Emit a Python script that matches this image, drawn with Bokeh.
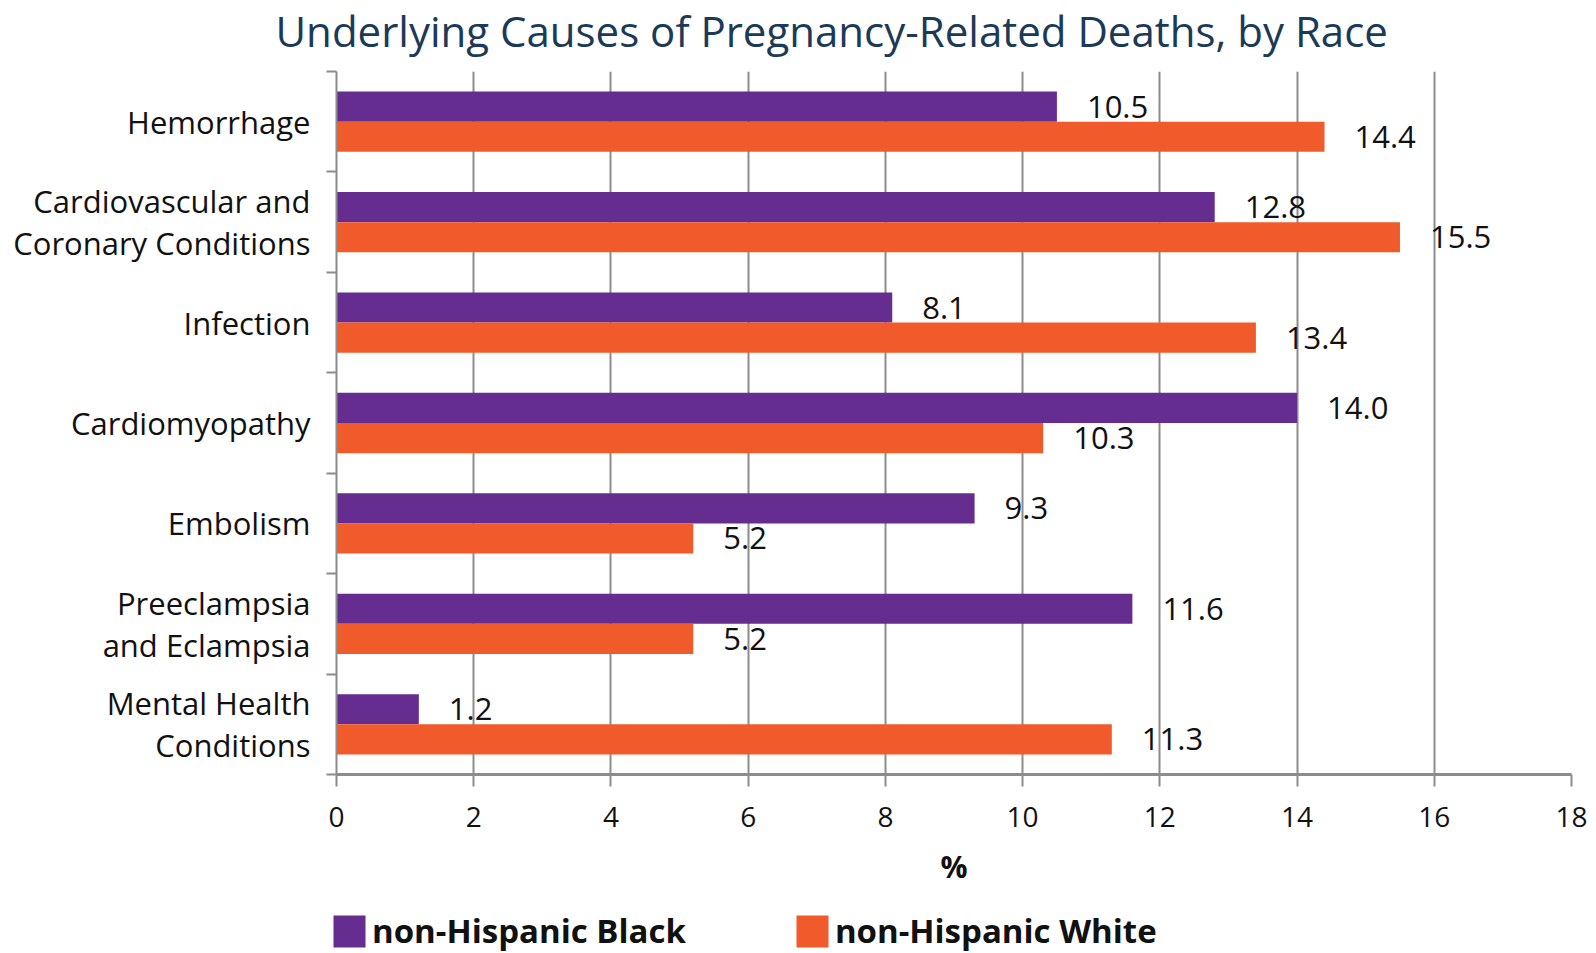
from bokeh.plotting import figure
from bokeh.layouts import column
from bokeh.models import (Range1d, FixedTicker, Legend, LegendItem,
                          ColumnDataSource)
from bokeh.transform import dodge
from bokeh.core.properties import value
from bokeh.embed import file_html
from bokeh.resources import INLINE

# Underlying causes, top to bottom
causes = [
    "Hemorrhage",
    "Cardiovascular and\nCoronary Conditions",
    "Infection",
    "Cardiomyopathy",
    "Embolism",
    "Preeclampsia\nand Eclampsia",
    "Mental Health\nConditions",
]
# Share of pregnancy-related deaths (%)
black = [10.5, 12.8, 8.1, 14.0, 9.3, 11.6, 1.2]
white = [14.4, 15.5, 13.4, 10.3, 5.2, 5.2, 11.3]
series_names = ["non-Hispanic Black", "non-Hispanic White"]
x_ticks = [0, 2, 4, 6, 8, 10, 12, 14, 16, 18]
title_text = "Underlying Causes of Pregnancy-Related Deaths, by Race"

PURPLE = "#652d90"
ORANGE = "#f15a2b"
GRID = "#8c8c8c"
INK = "#111111"
FONT = "Open Sans"
W = 1596
TOP_H, MAIN_H, LEG_H = 67, 836, 50
FRAME_TOP, FRAME_H = 4, 703

n = len(causes)
centers = [i + 0.5 for i in range(n)]
bar_h = 0.3
src = ColumnDataSource(dict(
    pos=centers,
    black=black,
    white=white,
    black_lbl=[f"{v:.1f}" for v in black],
    white_lbl=[f"{v:.1f}" for v in white],
))


def strip(height):
    """A thin figure with no axes or grid, used for the title and the legend."""
    f = figure(width=W, height=height, x_range=Range1d(x_ticks[0], x_ticks[-1]),
               y_range=Range1d(0, 1), output_backend="svg", toolbar_location=None,
               min_border=0, x_axis_type=None, y_axis_type=None)
    f.outline_line_color = None
    f.grid.visible = False
    f.frame_align = False
    return f


# ---- title strip
head = strip(TOP_H)
head.title.text = title_text
head.title.align = "left"
head.title.offset = 275
head.title.standoff = 0
head.title.vertical_align = "middle"
head.title.text_font = FONT
head.title.text_font_style = "normal"
head.title.text_font_size = "42px"
head.title.text_color = "#1b3a57"

# ---- main chart
p = figure(
    width=W, height=MAIN_H,
    x_range=Range1d(x_ticks[0], x_ticks[-1]),
    y_range=Range1d(n, 0),
    output_backend="svg", toolbar_location=None,
    min_border_left=336, min_border_right=25,
    min_border_top=FRAME_TOP, min_border_bottom=MAIN_H - FRAME_TOP - FRAME_H,
)
p.outline_line_color = None

# vertical grid every 2 %
p.ygrid.visible = False
p.xgrid.ticker = FixedTicker(ticks=x_ticks)
p.xgrid.grid_line_color = GRID
p.xgrid.grid_line_width = 2

# x axis
xa = p.xaxis[0]
xa.ticker = FixedTicker(ticks=x_ticks)
xa.axis_line_color = GRID
xa.axis_line_width = 3
xa.major_tick_line_color = GRID
xa.major_tick_line_width = 2
xa.major_tick_in = 0
xa.major_tick_out = 12
xa.minor_tick_line_color = None
xa.major_label_text_font = FONT
xa.major_label_text_font_size = "28px"
xa.major_label_text_color = INK
xa.major_label_standoff = 20
xa.axis_label = "%"
xa.axis_label_text_font = FONT
xa.axis_label_text_font_style = "bold"
xa.axis_label_text_font_size = "30px"
xa.axis_label_text_color = INK
xa.axis_label_standoff = 16

# y axis: labels at category centres, ticks at category boundaries
ya = p.yaxis[0]
ya.ticker = FixedTicker(ticks=centers, minor_ticks=list(range(n + 1)))
ya.major_label_overrides = {c: name for c, name in zip(centers, causes)}
ya.axis_line_color = GRID
ya.axis_line_width = 2
ya.major_tick_line_color = None
ya.major_tick_in = 0
ya.major_tick_out = 0
ya.minor_tick_line_color = GRID
ya.minor_tick_line_width = 2
ya.minor_tick_in = 0
ya.minor_tick_out = 10
ya.major_label_standoff = 16
ya.major_label_text_font = FONT
ya.major_label_text_font_size = "31px"
ya.major_label_text_color = INK
ya.major_label_text_line_height = 1.0

# bars
p.hbar(y=dodge("pos", -bar_h / 2, range=p.y_range), left=0, right="black",
       height=bar_h, source=src, fill_color=PURPLE, line_color=None)
p.hbar(y=dodge("pos", bar_h / 2, range=p.y_range), left=0, right="white",
       height=bar_h, source=src, fill_color=ORANGE, line_color=None)

# value labels
for col, off in (("black", -bar_h / 2), ("white", bar_h / 2)):
    p.text(x=col, y=dodge("pos", off, range=p.y_range), text=col + "_lbl", source=src,
           x_offset=30, text_align="left", text_baseline="middle",
           text_font=value(FONT), text_font_size="31px", text_color=INK)

# ---- legend strip (hidden copies of the two series supply the swatches)
foot = strip(LEG_H)
sw_black = foot.hbar(y="pos", left=0, right="black", height=bar_h, source=src,
                     fill_color=PURPLE, line_color=None, visible=False)
sw_white = foot.hbar(y="pos", left=0, right="white", height=bar_h, source=src,
                     fill_color=ORANGE, line_color=None, visible=False)
leg = Legend(items=[LegendItem(label=series_names[0], renderers=[sw_black]),
                    LegendItem(label=series_names[1], renderers=[sw_white])],
             location=(329, 0), orientation="horizontal",
             border_line_color=None, background_fill_alpha=0,
             inactive_fill_alpha=0,
             padding=0, margin=0, spacing=106,
             glyph_width=40, glyph_height=40, label_standoff=3,
             label_text_font=FONT, label_text_font_style="bold",
             label_text_font_size="33px", label_text_color=INK)
foot.add_layout(leg)

open("out.html", "w").write(file_html(column(head, p, foot, spacing=0), INLINE))
